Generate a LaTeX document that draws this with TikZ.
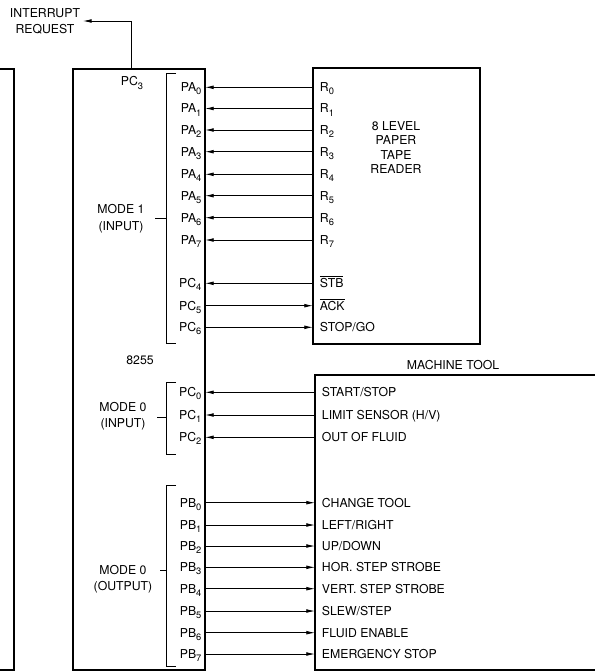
\documentclass[tikz,border=0pt]{standalone}
\usepackage{fontspec}
\setmainfont{TeX Gyre Heros}
\usetikzlibrary{arrows.meta}
\newcommand{\pinsub}[1]{\raisebox{-2.4pt}{\fontsize{7}{7}\selectfont #1}}

\begin{document}
\begin{tikzpicture}[
          x=0.75pt, y=-0.75pt,
          box/.style={draw, line width=1.5pt},
          brk/.style={draw, line width=0.5pt},
          txt/.style={font=\fontsize{9.2}{12}\selectfont, inner sep=2pt},
          lbl/.style={txt, text height=7.4pt, text depth=0.8pt, inner ysep=1pt},
          pinl/.style={lbl, anchor=east, inner xsep=2.5pt},
          extl/.style={lbl, anchor=west, inner xsep=5pt},
          sig/.style={line width=0.6pt, -{Latex[length=6.5pt,width=2.8pt]}}
      ]
        \useasboundingbox (0,0) rectangle (595,671);
        % boxes
        \draw[box] (0,69) -- (14,69) -- (14,670) -- (0,670);
        \draw[box] (73,69) rectangle (205,670);
        \draw[box] (313,68) rectangle (480,344);
        \draw[box] (595,375) -- (315,375) -- (315,670) -- (595,670);
        \node[txt] (chip) at (140,360) {8255};
        \node[txt] (tool) at (453,364.7) {MACHINE TOOL};
        \node[txt, align=center, font=\fontsize{9.2}{10.9}\selectfont] (rdr) at (396,147.5) {8 LEVEL\\PAPER\\TAPE\\READER};
        % interrupt
        \node[txt, align=center] (irq) at (45,21) {INTERRUPT\\REQUEST};
        \coordinate (pc3out) at (131,69);
        \draw[sig] (pc3out) |- (irq.east);
        \node[lbl] (pc3) at (132,81.5) {PC\pinsub{3}};
        % port A, mode 1
        \foreach \i/\y in {0/87.3,1/108.5,2/130,3/151.7,4/174.3,5/195.7,6/217.7,7/240} {
          \node[pinl] (pa\i) at (205,\y) {PA\pinsub{\i}};
          \node[extl] (r\i) at (313,\y) {R\pinsub{\i}};
          \draw[sig] (r\i.west) -- (pa\i.east);
        }
        \node[pinl] (pc4) at (205,283.3) {PC\pinsub{4}};
        \node[pinl] (pc5) at (205,305.7) {PC\pinsub{5}};
        \node[pinl] (pc6) at (205,327.3) {PC\pinsub{6}};
        \node[extl] (stb) at (313,283.3) {$\overline{\mbox{STB}}$};
        \node[extl] (ack) at (313,305.7) {$\overline{\mbox{ACK}}$};
        \node[extl] (stopgo) at (313,327.3) {STOP/GO};
        \draw[sig] (stb.west) -- (pc4.east);
        \draw[sig] (pc5.east) -- (ack.west);
        \draw[sig] (pc6.east) -- (stopgo.west);
        % port C lower, mode 0 input
        \foreach \i/\y/\txt in {0/392.3/{START/STOP},1/415/{LIMIT SENSOR (H/V)},2/437.3/OUT OF FLUID} {
          \node[pinl] (pc\i) at (205,\y) {PC\pinsub{\i}};
          \node[extl] (in\i) at (315,\y) {\txt};
          \draw[sig] (in\i.west) -- (pc\i.east);
        }
        % port B, mode 0 output
        \foreach \i/\y/\txt in {0/502.7/CHANGE TOOL,1/525/{LEFT/RIGHT},2/546/{UP/DOWN},3/567.3/HOR. STEP STROBE,
                                4/588.7/VERT. STEP STROBE,5/611/{SLEW/STEP},6/632.7/FLUID ENABLE,7/654/EMERGENCY STOP} {
          \node[pinl] (pb\i) at (205,\y) {PB\pinsub{\i}};
          \node[extl] (out\i) at (315,\y) {\txt};
          \draw[sig] (pb\i.east) -- (out\i.west);
        }
        % mode brackets
        \draw[brk] (176,73) -- (166,73) -- (166,343) -- (176,343);
        \draw[brk] (155,218) -- (166,218);
        \node[txt, align=center, font=\fontsize{9.2}{12.5}\selectfont] (mode1) at (121,219) {MODE 1\\(INPUT)};
        \draw[brk] (176,382) -- (166,382) -- (166,454) -- (176,454);
        \draw[brk] (157,417) -- (166,417);
        \node[txt, align=center] (mode0i) at (123,416) {MODE 0\\(INPUT)};
        \draw[brk] (176,485) -- (166,485) -- (166,666) -- (176,666);
        \draw[brk] (160,570) -- (166,570);
        \node[txt, align=center] (mode0o) at (123,579) {MODE 0\\(OUTPUT)};
      \end{tikzpicture}
\end{document}
